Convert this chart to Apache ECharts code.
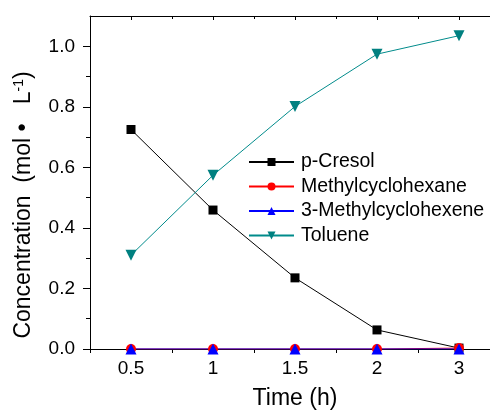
<!DOCTYPE html>
<html>
<head>
<meta charset="utf-8">
<script src="https://cdn.jsdelivr.net/npm/echarts@6/dist/echarts.min.js"></script>
<style>
  html, body { margin: 0; padding: 0; background: #fff; }
  #main { width: 490px; height: 412px; }
</style>
</head>
<body>
<div id="main"></div>
<script>
// time points (h)
const times = ["0.5", "1", "1.5", "2", "3"];
// concentrations (mol/L)
const pCresol = [0.725, 0.459, 0.235, 0.063, 0.003];
const methylcyclohexane = [0, 0, 0, 0, 0.003];
const methylcyclohexene = [0, 0, 0, 0, 0];
const toluene = [0.31, 0.574, 0.801, 0.974, 1.035];
const yTicks = [0, 0.2, 0.4, 0.6, 0.8, 1.0];

const font = "Liberation Sans, Arial, sans-serif";
const chart = echarts.init(document.getElementById("main"));

// hidden helper axis: only ticks, no line or labels
function tickAxis(pos, alignCenter, len, inside) {
  return {
    type: "category",
    data: times,
    position: pos,
    boundaryGap: true,
    axisLine: { show: false },
    axisLabel: { show: false },
    splitLine: { show: false },
    axisTick: {
      show: true,
      alignWithLabel: alignCenter,
      length: len,
      inside: inside,
      lineStyle: { color: "#000", width: 1 }
    }
  };
}

let option = {
  animation: false,
  grid: { left: 90, top: 16, width: 410, height: 333, outerBoundsMode: "none", containLabel: false },
  legend: {
    orient: "vertical",
    left: 248,
    top: 152,
    padding: 0,
    itemWidth: 45,
    itemHeight: 10,
    itemGap: 4.5,
    textStyle: { fontFamily: font, fontSize: 19.5, color: "#000", lineHeight: 20, padding: [0, 0, 0, 2] },
    data: ["p-Cresol", "Methylcyclohexane", "3-Methylcyclohexene", "Toluene"]
  },
  xAxis: [
    {
      type: "category",
      data: times,
      position: "bottom",
      boundaryGap: true,
      name: "Time (h)",
      nameLocation: "middle",
      nameGap: 38,
      nameTextStyle: { fontFamily: font, fontSize: 23, color: "#000" },
      axisLine: { lineStyle: { color: "#000", width: 1 } },
      axisTick: { alignWithLabel: true, length: 6, lineStyle: { color: "#000" } },
      axisLabel: { fontFamily: font, fontSize: 19, color: "#000", margin: 10 },
      splitLine: { show: false }
    },
    tickAxis("bottom", false, 4, false),
    Object.assign(tickAxis("top", true, 4, true), {
      axisLine: { show: true, lineStyle: { color: "#000", width: 1 } }
    }),
    tickAxis("top", false, 3, true)
  ],
  yAxis: {
    type: "value",
    min: 0,
    max: 1.1,
    interval: 0.2,
    name: "Concentration  (mol \u2022   L{sup|-1})",
    nameLocation: "middle",
    nameGap: 54,
    nameTextStyle: {
      fontFamily: font, fontSize: 23, color: "#000",
      padding: [0, 45, 0, 0],
      rich: {
        sup: { fontFamily: font, fontSize: 14, color: "#000", verticalAlign: "top", padding: [0, 0, 10, 0] }
      }
    },
    axisLine: { show: true, lineStyle: { color: "#000", width: 1 } },
    axisTick: { show: true, length: 7, customValues: yTicks, lineStyle: { color: "#000" } },
    minorTick: { show: true, splitNumber: 2, length: 4, lineStyle: { color: "#000" } },
    axisLabel: {
      fontFamily: font, fontSize: 19, color: "#000", margin: 15,
      customValues: yTicks,
      formatter: function (v) { return v.toFixed(1); }
    },
    splitLine: { show: false }
  },
  series: [
    {
      name: "p-Cresol",
      type: "line",
      data: pCresol,
      symbol: "rect",
      symbolSize: 9,
      itemStyle: { color: "#000" },
      lineStyle: { color: "#000", width: 1 }
    },
    {
      name: "Methylcyclohexane",
      type: "line",
      data: methylcyclohexane,
      symbol: "circle",
      symbolSize: 10,
      itemStyle: { color: "#ff0000" },
      lineStyle: { color: "#ff0000", width: 1 }
    },
    {
      name: "3-Methylcyclohexene",
      type: "line",
      data: methylcyclohexene,
      symbol: "triangle",
      symbolSize: 11,
      itemStyle: { color: "#0000ff" },
      lineStyle: { color: "#0000ff", width: 1 }
    },
    {
      name: "Toluene",
      type: "line",
      data: toluene,
      symbol: "triangle",
      symbolRotate: 180,
      symbolSize: 11,
      itemStyle: { color: "#008080" },
      lineStyle: { color: "#008b8b", width: 1 }
    }
  ]
};
chart.setOption(option);
</script>
</body>
</html>
